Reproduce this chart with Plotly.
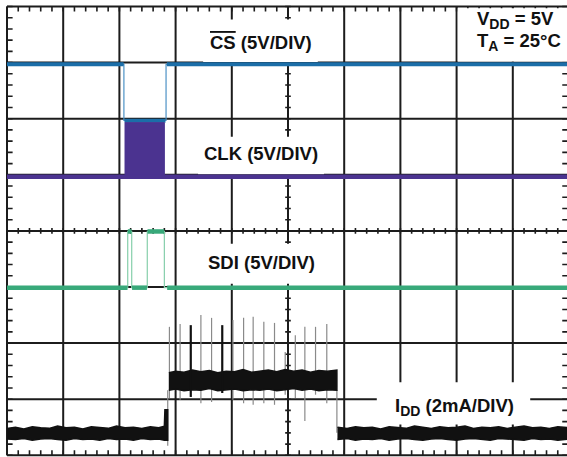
import plotly.graph_objects as go

# ---------------- data (screen divisions: time 0..10 div, amplitude 0..8 div) ----------------
# CS (5V/DIV)
cs_t = [0.0, 2.08, 2.08, 2.83, 2.83, 10.0]
cs_v = [6.97, 6.97, 5.97, 5.97, 6.97, 6.97]
cs_band_t = [0.0, 2.075, None, 2.09, 2.82, None, 2.845, 10.0]
cs_band_v = [6.97, 6.97, None, 5.965, 5.965, None, 6.97, 6.97]

# CLK (5V/DIV)
clk_base_t = [0.0, 10.0]
clk_base_v = [4.965, 4.965]
clk_burst_t = [2.10, 2.10, 2.80, 2.80]
clk_burst_v = [4.965, 5.93, 5.93, 4.965]

# SDI (5V/DIV)
sdi_t = [0.0, 2.148, 2.148, 2.219, 2.219, 2.496, 2.496, 2.80, 2.80, 10.0]
sdi_v = [2.988, 2.988, 3.99, 3.99, 2.988, 2.988, 3.99, 3.99, 2.988, 2.988]
sdi_band_t = [0.0, 2.145, None, 2.15, 2.215, None, 2.225, 2.49, None, 2.50, 2.795, None, 2.85, 10.0]
sdi_band_v = [2.988, 2.988, None, 3.99, 3.99, None, 2.988, 2.988, None, 3.99, 3.99, None, 2.988, 2.988]

# IDD (2mA/DIV) noise band envelopes
idd_lo1_t = [0.00, 0.15, 0.30, 0.45, 0.60, 0.75, 0.90, 1.05, 1.20, 1.35, 1.50, 1.65, 1.80, 1.95,
             2.10, 2.25, 2.40, 2.55, 2.70, 2.80, 2.81, 2.86]
idd_lo1_top = [0.48, 0.50, 0.47, 0.51, 0.49, 0.48, 0.52, 0.49, 0.50, 0.47, 0.51, 0.50, 0.48, 0.52,
               0.49, 0.50, 0.48, 0.51, 0.49, 0.52, 0.81, 0.81]
idd_lo1_bot = [0.29, 0.28, 0.30, 0.27, 0.29, 0.30, 0.28, 0.27, 0.30, 0.28, 0.29, 0.27, 0.30, 0.28,
               0.29, 0.27, 0.30, 0.28, 0.29, 0.27, 0.27, 0.27]

idd_hi_t = [2.88, 3.00, 3.15, 3.30, 3.45, 3.60, 3.75, 3.90, 4.05, 4.20, 4.35, 4.50, 4.65, 4.80,
            4.95, 5.10, 5.25, 5.40, 5.55, 5.70, 5.87]
idd_hi_top = [1.47, 1.50, 1.48, 1.52, 1.49, 1.51, 1.47, 1.50, 1.49, 1.53, 1.48, 1.50, 1.52, 1.49,
              1.53, 1.50, 1.52, 1.48, 1.51, 1.50, 1.52]
idd_hi_bot = [1.16, 1.18, 1.15, 1.17, 1.16, 1.19, 1.15, 1.17, 1.18, 1.15, 1.17, 1.16, 1.18, 1.15,
              1.17, 1.19, 1.16, 1.18, 1.15, 1.17, 1.16]

idd_lo2_t = [5.88, 6.05, 6.20, 6.35, 6.50, 6.65, 6.80, 6.95, 7.10, 7.25, 7.40, 7.55, 7.70, 7.85,
             8.00, 8.15, 8.30, 8.45, 8.60, 8.75, 8.90, 9.05, 9.20, 9.35, 9.50, 9.65, 9.80, 10.0]
idd_lo2_top = [0.50, 0.48, 0.51, 0.49, 0.50, 0.47, 0.51, 0.49, 0.48, 0.52, 0.50, 0.48, 0.51, 0.49,
               0.50, 0.52, 0.48, 0.50, 0.49, 0.51, 0.48, 0.50, 0.52, 0.49, 0.50, 0.48, 0.51, 0.49]
idd_lo2_bot = [0.28, 0.30, 0.27, 0.29, 0.28, 0.30, 0.27, 0.29, 0.30, 0.28, 0.27, 0.29, 0.30, 0.28,
               0.27, 0.29, 0.30, 0.28, 0.27, 0.30, 0.29, 0.28, 0.27, 0.30, 0.28, 0.29, 0.27, 0.29]

# IDD edges (time, from, to)
idd_edge_t = [2.86, 2.86, 5.87]
idd_edge_from = [0.81, 0.81, 1.16]
idd_edge_to = [1.16, 0.17, 0.40]

# IDD spikes: time, top, bottom
spike_t = [2.89, 3.08, 3.45, 3.64, 4.02, 4.21, 4.38, 4.57, 4.76, 4.95, 5.13, 5.30, 5.49, 5.69]
spike_top = [2.29, 2.34, 2.50, 2.45, 2.41, 2.45, 2.47, 2.38, 2.36, 1.84, 2.14, 2.29, 2.29, 2.34]
spike_bot = [1.02, 0.99, 0.93, 0.95, 0.99, 0.93, 0.90, 0.93, 0.90, 1.08, 1.02, 0.61, 1.08, 0.93]
spike_bold_t = [3.27, 3.83]
spike_bold_top = [2.32, 2.32]
spike_bold_bot = [1.04, 1.11]

# grid
n_xdiv = 10
n_ydiv = 8
minor = 0.2

# labels
SUB = '<sub><span style="font-size:14px">{}</span></sub>'
label_text = ['<span style="text-decoration:overline">CS</span> (5V/DIV)', 'CLK (5V/DIV)',
              'SDI (5V/DIV)', 'I' + SUB.format('DD') + ' (2mA/DIV)',
              'V' + SUB.format('DD') + ' = 5V', 'T' + SUB.format('A') + ' = 25°C']
label_x = [4.52, 4.52, 4.52, 6.863, 8.327, 8.327]
label_y = [7.36, 5.38, 3.44, 0.86, 7.76, 7.36]
label_anchor = ['center', 'center', 'center', 'left', 'left', 'left']

# white label boxes (x0, x1, y0, y1) in divisions
box_x0 = [3.49, 3.40, 3.43, 6.58, 8.02]
box_x1 = [5.53, 5.64, 5.60, 9.31, 10.05]
box_y0 = [7.01, 5.01, 3.06, 0.55, 7.02]
box_y1 = [7.77, 5.68, 3.77, 1.30, 7.97]

# ---------------- figure ----------------
CS_C = '#1b6ea8'
CS_EDGE = '#4d92c6'
CLK_C = '#4b3390'
SDI_C = '#38a97a'
SDI_EDGE = '#86cfab'
IDD_C = '#111111'
SPIKE_C = '#8a8a8a'

fig = go.Figure()

def poly(t, top, bot):
    return list(t) + list(reversed(t)), list(top) + list(reversed(bot))

# CS
fig.add_trace(go.Scatter(x=cs_t, y=cs_v, mode='lines', line=dict(color=CS_EDGE, width=1.2)))
fig.add_trace(go.Scatter(x=cs_band_t, y=cs_band_v, mode='lines', line=dict(color=CS_C, width=4)))

# CLK
fig.add_trace(go.Scatter(x=clk_burst_t, y=clk_burst_v, mode='lines', fill='toself',
                         fillcolor=CLK_C, line=dict(color=CLK_C, width=1)))
fig.add_trace(go.Scatter(x=clk_base_t, y=clk_base_v, mode='lines', line=dict(color=CLK_C, width=4.5)))

# SDI
fig.add_trace(go.Scatter(x=sdi_t, y=sdi_v, mode='lines', line=dict(color=SDI_EDGE, width=1.2)))
fig.add_trace(go.Scatter(x=sdi_band_t, y=sdi_band_v, mode='lines', line=dict(color=SDI_C, width=4.5)))

# IDD spikes
sx, sy = [], []
for t, a, b in zip(spike_t, spike_top, spike_bot):
    sx += [t, t, None]
    sy += [b, a, None]
fig.add_trace(go.Scatter(x=sx, y=sy, mode='lines', line=dict(color=SPIKE_C, width=1.2)))
ex, ey = [], []
for t, a, b in zip(idd_edge_t, idd_edge_from, idd_edge_to):
    ex += [t, t, None]
    ey += [a, b, None]
fig.add_trace(go.Scatter(x=ex, y=ey, mode='lines', line=dict(color=SPIKE_C, width=1.2)))

# IDD bands
for t, top, bot in [(idd_lo1_t, idd_lo1_top, idd_lo1_bot),
                    (idd_hi_t, idd_hi_top, idd_hi_bot),
                    (idd_lo2_t, idd_lo2_top, idd_lo2_bot)]:
    px_, py_ = poly(t, top, bot)
    fig.add_trace(go.Scatter(x=px_, y=py_, mode='lines', fill='toself', fillcolor=IDD_C,
                             line=dict(color=IDD_C, width=1.5)))
bx, by = [], []
for t, a, b in zip(spike_bold_t, spike_bold_top, spike_bold_bot):
    bx += [t, t, None]
    by += [b, a, None]
fig.add_trace(go.Scatter(x=bx, y=by, mode='lines', line=dict(color=IDD_C, width=2.2)))

# grid path
g = []
for i in range(n_xdiv + 1):
    g.append(f'M{i},0 L{i},{n_ydiv}')
for j in range(n_ydiv + 1):
    g.append(f'M0,{j} L{n_xdiv},{j}')
grid_path = ' '.join(g)

# minor ticks
tk = []
nx = int(round(n_xdiv / minor))
ny = int(round(n_ydiv / minor))
for k in range(nx + 1):
    x = round(k * minor, 3)
    tk.append(f'M{x},{n_ydiv} L{x},{n_ydiv - 0.09}')
    tk.append(f'M{x},0 L{x},0.09')
    tk.append(f'M{x},{n_ydiv/2 - 0.05} L{x},{n_ydiv/2 + 0.05}')
for k in range(ny + 1):
    y = round(k * minor, 3)
    tk.append(f'M0,{y} L0.1,{y}')
    tk.append(f'M{n_xdiv},{y} L{n_xdiv - 0.12},{y}')
    tk.append(f'M{n_xdiv/2 - 0.05},{y} L{n_xdiv/2 + 0.05},{y}')
tick_path = ' '.join(tk)

shapes = [
    dict(type='path', path=tick_path, xref='x', yref='y', layer='below',
         line=dict(color='#1c1c1c', width=1.6)),
    dict(type='path', path=grid_path, xref='x', yref='y', layer='below',
         line=dict(color='#1c1c1c', width=2)),
]
for x0, x1, y0, y1 in zip(box_x0, box_x1, box_y0, box_y1):
    shapes.append(dict(type='rect', x0=x0, x1=x1, y0=y0, y1=y1, xref='x', yref='y',
                       layer='below', fillcolor='white', line=dict(width=0)))

annotations = []
for txt, x, y, anc in zip(label_text, label_x, label_y, label_anchor):
    annotations.append(dict(text='<b>' + txt + '</b>', x=x, y=y, xref='x', yref='y', xanchor=anc,
                            yanchor='middle', showarrow=False,
                            font=dict(family='Liberation Sans, Arial, sans-serif',
                                      size=18.5, color='#111111')))

fig.update_layout(
    width=567, height=457,
    margin=dict(l=0, r=0, t=0, b=0),
    paper_bgcolor='white', plot_bgcolor='white',
    showlegend=False,
    xaxis=dict(range=[-0.12456, 9.9644], visible=False, fixedrange=True),
    yaxis=dict(range=[-0.0303, 8.1159], visible=False, fixedrange=True),
    shapes=shapes,
    annotations=annotations,
)

fig.write_html('out.html', config={'displayModeBar': False, 'staticPlot': True},
               post_script="document.body.style.margin='0';document.body.style.overflow='hidden';")
